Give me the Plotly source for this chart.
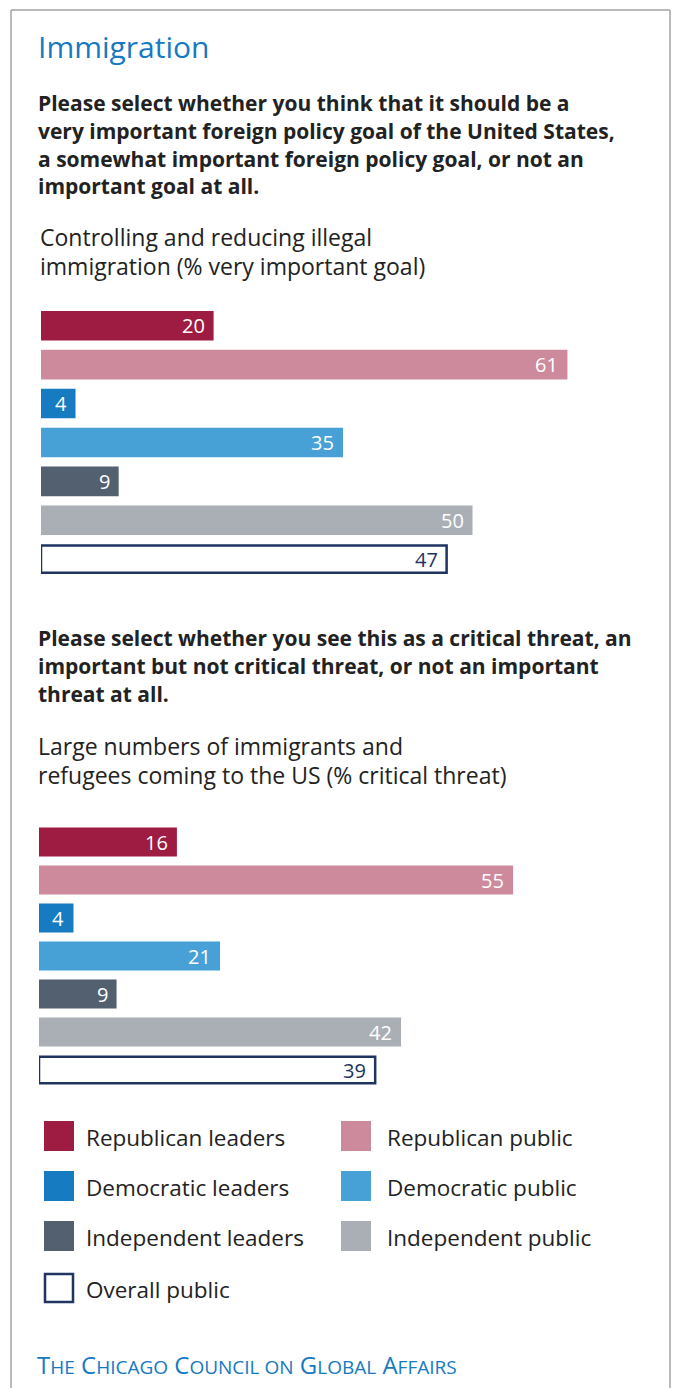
import plotly.graph_objects as go

W, H = 676, 1388

groups = ["Republican leaders", "Republican public", "Democratic leaders",
          "Democratic public", "Independent leaders", "Independent public",
          "Overall public"]
goal_values = [20, 61, 4, 35, 9, 50, 47]
threat_values = [16, 55, 4, 21, 9, 42, 39]
fill_colors = ["#9e1c41", "#ce8a9d", "#167bc1", "#48a1d6",
               "#52606f", "#a9afb5", "#ffffff"]
navy = "#1f3461"

title = "Immigration"
question1 = ["Please select whether you think that it should be a",
             "very important foreign policy goal of the United States,",
             "a somewhat important foreign policy goal, or not an",
             "important goal at all."]
item1 = ["Controlling and reducing illegal",
         "immigration (% very important goal)"]
question2 = ["Please select whether you see this as a critical threat, an",
             "important but not critical threat, or not an important",
             "threat at all."]
item2 = ["Large numbers of immigrants and",
         "refugees coming to the US (% critical threat)"]
footer = ("T<span style='font-size:19px'>HE</span> C<span style='font-size:19px'>HICAGO</span> "
          "C<span style='font-size:19px'>OUNCIL ON</span> G<span style='font-size:19px'>LOBAL</span> "
          "A<span style='font-size:19px'>FFAIRS</span>")

FONT = "Open Sans"
TEXT = "#222222"
BLUE = "#1679c2"


def px(x):
    return x / W


def py(y):
    return 1 - y / H


fig = go.Figure()

line_widths = [0, 0, 0, 0, 0, 0, 2.5]
line_colors = [c if c != "#ffffff" else navy for c in fill_colors]
label_colors = ["#ffffff"] * 6 + [navy]

for i, (vals, xa, ya) in enumerate([(goal_values, "x", "y"), (threat_values, "x2", "y2")]):
    fig.add_trace(go.Bar(
        x=vals, y=groups, orientation="h", xaxis=xa, yaxis=ya,
        marker=dict(color=fill_colors, line=dict(color=line_colors, width=line_widths)),
        width=[0.76] * 6 + [0.70], showlegend=False, hoverinfo="skip",
    ))
    for g, v, c in zip(groups, vals, label_colors):
        fig.add_annotation(x=v, y=g, xref=xa, yref=ya, text=str(v), showarrow=False,
                           xanchor="right", yanchor="middle", xshift=-7,
                           font=dict(family=FONT, size=20, color=c))

# chart 1: bars start at x=41, ~8.63 px per point; chart 2 starts at x=39
R = 70
fig.update_layout(
    xaxis=dict(domain=[px(41), px(41 + 8.63 * R)], range=[0, R], visible=False, fixedrange=True),
    yaxis=dict(domain=[py(306.3 + 7 * 38.9), py(306.3)], range=[6.5, -0.5],
               visible=False, type="category", categoryorder="array", categoryarray=groups),
    xaxis2=dict(domain=[px(39), px(39 + 8.62 * R)], range=[0, R], visible=False, anchor="y2"),
    yaxis2=dict(domain=[py(823 + 7 * 38.0), py(823)], range=[6.5, -0.5],
                visible=False, anchor="x2", type="category", categoryorder="array", categoryarray=groups),
)

# card frame (top, left, right edges)
frame = dict(type="line", xref="paper", yref="paper", line=dict(color="#a3a3a3", width=1.5))
fig.add_shape(**frame, x0=px(11), x1=px(670), y0=py(10), y1=py(10))
fig.add_shape(**frame, x0=px(11), x1=px(11), y0=py(10), y1=py(H + 5))
fig.add_shape(**frame, x0=px(670), x1=px(670), y0=py(10), y1=py(H + 5))


def text_line(s, x, y, size, color=TEXT, bold=False):
    fig.add_annotation(x=px(x), y=py(y), xref="paper", yref="paper", text=f"<b>{s}</b>" if bold else s,
                       showarrow=False, xanchor="left", yanchor="middle",
                       font=dict(family=FONT, size=size, color=color))


text_line(title, 36, 47, 30, color=BLUE)
for k, s in enumerate(question1):
    text_line(s, 36, 103 + 27.8 * k, 21, bold=True)
for k, s in enumerate(item1):
    text_line(s, 38, 237 + 28.5 * k, 23)
for k, s in enumerate(question2):
    text_line(s, 36, 638 + 27.8 * k, 21, bold=True)
for k, s in enumerate(item2):
    text_line(s, 36, 746 + 28.5 * k, 23)

# legend: two columns of swatches
legend_pos = [(44, 1136), (341, 1136), (44, 1186), (341, 1186),
              (44, 1236), (341, 1236), (44, 1288)]
for g, c, (lx, ly) in zip(groups, fill_colors, legend_pos):
    is_outline = c == "#ffffff"
    fig.add_shape(type="rect", xref="paper", yref="paper",
                  x0=px(lx + (1 if is_outline else 0)), x1=px(lx + (29 if is_outline else 30)),
                  y0=py(ly - (14 if is_outline else 15)), y1=py(ly + (14 if is_outline else 15)),
                  fillcolor=c, line=dict(color=navy if is_outline else c, width=2.5 if is_outline else 0))
    text_line(g, lx + 40 if lx < 100 else lx + 44, ly + 1, 22.5)

text_line(footer, 35, 1364, 24, color=BLUE)

fig.update_layout(
    width=W, height=H, margin=dict(l=0, r=0, t=0, b=0),
    paper_bgcolor="white", plot_bgcolor="white",
)

fig.write_html("out.html", config={"displayModeBar": False})
